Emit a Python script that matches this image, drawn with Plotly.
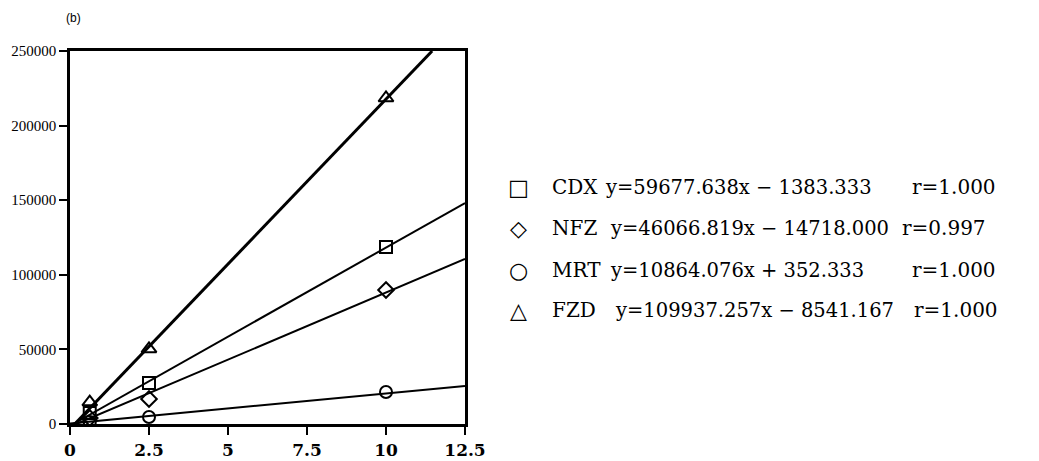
import plotly.graph_objects as go

# ---- data ----
conc = [0.625, 2.5, 10]
cdx = [7400, 27500, 118600]
nfz = [4000, 16800, 89800]
mrt = [1300, 4700, 21400]
fzd = [14700, 50300, 218500]

# fitted-line endpoints
cdx_line_x = [0.1, 12.5]
cdx_line_y = [0, 148100]
nfz_line_x = [0.2, 12.5]
nfz_line_y = [0, 110600]
mrt_line_x = [0.0, 12.5]
mrt_line_y = [300, 25500]
fzd_line_x = [0.15, 11.46]
fzd_line_y = [0, 250000]

x_ticks = [0, 2.5, 5, 7.5, 10, 12.5]
x_tick_labels = ["0", "2.5", "5", "7.5", "10", "12.5"]
y_ticks = [0, 50000, 100000, 150000, 200000, 250000]
y_tick_labels = ["0", "50000", "100000", "150000", "200000", "250000"]

names = ["CDX", "NFZ", "MRT", "FZD"]
symbols = ["□", "◇", "○", "△"]
equations = ["y=59677.638x − 1383.333",
             "y=46066.819x − 14718.000",
             "y=10864.076x + 352.333",
             "y=109937.257x − 8541.167"]
r_values = ["r=1.000", "r=0.997", "r=1.000", "r=1.000"]

# ---- layout geometry (window pixels); page body adds an 8px offset ----
OFF = 8
W, H = 1039 - OFF, 461 - OFF
L, R, T, B = 70 - OFF, 465 - OFF, 51 - OFF, 424 - OFF

def px(x):
    return (x - OFF - L) / (R - L)

def py(y):
    return (B - (y - OFF)) / (B - T)

fig = go.Figure()

line_sets = [(cdx_line_x, cdx_line_y, 2), (nfz_line_x, nfz_line_y, 2),
             (mrt_line_x, mrt_line_y, 2), (fzd_line_x, fzd_line_y, 3)]
for lx, ly, w in line_sets:
    fig.add_trace(go.Scatter(x=lx, y=ly, mode="lines",
                             line=dict(color="black", width=w),
                             showlegend=False, hoverinfo="skip"))

marker_sets = [(cdx, "square-open", 12), (nfz, "diamond-open", 12),
               (mrt, "circle-open", 12), (fzd, "triangle-up-open", 13)]
for ys, sym, sz in marker_sets:
    fig.add_trace(go.Scatter(x=conc, y=ys, mode="markers",
                             marker=dict(symbol=sym, size=sz, color="black",
                                         line=dict(color="black", width=2)),
                             showlegend=False))

fig.update_xaxes(range=[0, 12.5], tickvals=x_ticks, ticktext=x_tick_labels,
                 showgrid=False, zeroline=False, showline=True, mirror=True,
                 linecolor="black", linewidth=2.5, ticks="outside", ticklen=8,
                 tickwidth=2, tickcolor="black", ticklabelstandoff=1,
                 tickfont=dict(family="DejaVu Serif", size=17, color="black",
                               weight="bold"))
fig.update_yaxes(range=[0, 250000], tickvals=y_ticks, ticktext=y_tick_labels,
                 showgrid=False, zeroline=False, showline=True, mirror=True,
                 linecolor="black", linewidth=2.5, ticks="outside", ticklen=8,
                 tickwidth=1.5, tickcolor="black",
                 tickfont=dict(family="Liberation Serif", size=15, color="black"))

ann = []
ann.append(dict(x=px(73), y=py(18), xref="paper", yref="paper", text="(b)",
                showarrow=False, xanchor="center", yanchor="middle",
                font=dict(family="Liberation Sans", size=12, color="black")))

row_y = [187, 228, 270, 310]
eq_x = [603, 608, 608, 613]
r_x = [910, 900, 910, 912]
for i in range(4):
    yy = py(row_y[i])
    ann.append(dict(x=px(518), y=yy, xref="paper", yref="paper",
                    text=symbols[i], showarrow=False, xanchor="center",
                    yanchor="middle",
                    font=dict(family="DejaVu Sans", size=22, color="black")))
    ann.append(dict(x=px(550), y=yy, xref="paper", yref="paper",
                    text=names[i], showarrow=False, xanchor="left",
                    yanchor="middle",
                    font=dict(family="DejaVu Serif", size=20, color="black")))
    ann.append(dict(x=px(eq_x[i]), y=yy, xref="paper", yref="paper",
                    text=equations[i], showarrow=False, xanchor="left",
                    yanchor="middle",
                    font=dict(family="DejaVu Serif", size=19.5, color="black")))
    ann.append(dict(x=px(r_x[i]), y=yy, xref="paper", yref="paper",
                    text=r_values[i], showarrow=False, xanchor="left",
                    yanchor="middle",
                    font=dict(family="DejaVu Serif", size=20, color="black")))

fig.update_layout(width=W, height=H,
                  margin=dict(l=L, r=W - R, t=T, b=H - B, autoexpand=False),
                  paper_bgcolor="white", plot_bgcolor="white",
                  annotations=ann, showlegend=False)

fig.write_html("out.html")
